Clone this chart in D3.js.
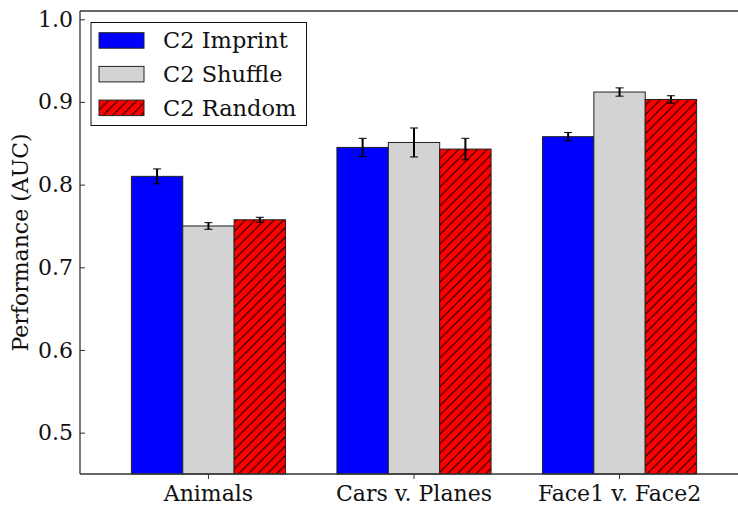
<!DOCTYPE html>
<html><head><meta charset="utf-8">
<script src="https://cdn.jsdelivr.net/npm/d3@7"></script>
<style>body{margin:0;background:#fff}svg{display:block}</style>
</head><body><svg id="c" width="738" height="506"></svg>
<script>
const categories = ["Animals", "Cars v. Planes", "Face1 v. Face2"];
const seriesNames = ["C2 Imprint", "C2 Shuffle", "C2 Random"];
const imprintVals = [0.810, 0.845, 0.858];
const shuffleVals = [0.750, 0.851, 0.912];
const randomVals = [0.7575, 0.843, 0.903];
const imprintErr = [0.009, 0.011, 0.005];
const shuffleErr = [0.004, 0.0175, 0.005];
const randomErr = [0.003, 0.013, 0.0045];
const yTicks = [0.5, 0.6, 0.7, 0.8, 0.9, 1.0];
const yDomain = [0.45, 1.01];

const values = [imprintVals, shuffleVals, randomVals];
const errs = [imprintErr, shuffleErr, randomErr];
const fills = ["#0000ff", "#d3d3d3", "url(#hatch)"];

const svg = d3.select("#c");
const font = "'DejaVu Serif', serif";
const L = 80, T = 11, B = 474;
const P = 9.5;

const defs = svg.append("defs");
const pat = defs.append("pattern").attr("id", "hatch").attr("patternUnits", "userSpaceOnUse")
  .attr("width", P).attr("height", P);
pat.append("rect").attr("width", P).attr("height", P).attr("fill", "#ff0000");
pat.append("path").attr("d", `M-2,2 L2,-2 M0,${P} L${P},0 M${P-2},${P+2} L${P+2},${P-2}`).attr("stroke", "#000").attr("stroke-width", 1);

const x = d3.scaleBand().domain(categories).range([L, 748]).paddingInner(0.25).paddingOuter(0.25);
const xs = d3.scaleBand().domain(seriesNames).range([0, x.bandwidth()]).padding(0);
const y = d3.scaleLinear().domain(yDomain).range([B, T]);

seriesNames.forEach((s, si) => {
  const g = svg.append("g");
  g.selectAll("rect").data(categories).join("rect")
    .attr("x", c => x(c) + xs(s))
    .attr("y", (c, i) => y(values[si][i]))
    .attr("width", xs.bandwidth())
    .attr("height", (c, i) => B - y(values[si][i]))
    .attr("fill", fills[si]).attr("stroke", "#222").attr("stroke-width", 1);
});
seriesNames.forEach((s, si) => {
  const g = svg.append("g").attr("stroke", "#000");
  categories.forEach((c, i) => {
    const cx = x(c) + xs(s) + xs.bandwidth() / 2;
    const v = values[si][i], e = errs[si][i];
    g.append("line").attr("x1", cx).attr("x2", cx).attr("y1", y(v - e)).attr("y2", y(v + e)).attr("stroke-width", 2);
    [v - e, v + e].forEach(w => g.append("line").attr("x1", cx - 4).attr("x2", cx + 4).attr("y1", y(w)).attr("y2", y(w)).attr("stroke-width", 1));
  });
});

svg.append("line").attr("x1", L).attr("x2", 738).attr("y1", T).attr("y2", T).attr("stroke", "#333").attr("stroke-width", 1.3);
svg.append("line").attr("x1", L).attr("x2", 738).attr("y1", B).attr("y2", B).attr("stroke", "#333").attr("stroke-width", 1.3);
svg.append("line").attr("x1", L).attr("x2", L).attr("y1", T).attr("y2", B).attr("stroke", "#333").attr("stroke-width", 1.3);

const ya = svg.append("g").attr("transform", `translate(${L},0)`)
  .call(d3.axisLeft(y).tickValues(yTicks).tickFormat(d3.format(".1f")).tickSizeInner(-5).tickSizeOuter(0).tickPadding(7));
ya.select(".domain").remove();
ya.selectAll("line").attr("stroke", "#333");
ya.selectAll("text").attr("font-family", font).attr("font-size", 22).attr("fill", "#111");

const xa = svg.append("g").attr("transform", `translate(0,${B})`)
  .call(d3.axisBottom(x).tickSizeInner(5).tickSizeOuter(0).tickPadding(6));
xa.select(".domain").remove();
xa.selectAll("line").attr("stroke", "#333");
xa.selectAll("text").attr("font-family", font).attr("font-size", 22).attr("fill", "#111");

svg.append("text").attr("transform", `translate(28,${(T + B) / 2}) rotate(-90)`)
  .attr("text-anchor", "middle").attr("font-family", font).attr("font-size", 22).attr("fill", "#111")
  .text("Performance (AUC)");

const lg = svg.append("g");
lg.append("rect").attr("x", 91).attr("y", 22.5).attr("width", 215.5).attr("height", 103)
  .attr("fill", "#fff").attr("stroke", "#111").attr("stroke-width", 1);
seriesNames.forEach((s, i) => {
  const yy = 32.7 + i * 33.7;
  lg.append("rect").attr("x", 99).attr("y", yy).attr("width", 45).attr("height", 15.5)
    .attr("fill", fills[i]).attr("stroke", "#222").attr("stroke-width", 1);
  lg.append("text").attr("x", 163).attr("y", yy + 15.6).attr("font-family", font).attr("font-size", 22.5).attr("fill", "#111").text(s);
});
</script></body></html>
